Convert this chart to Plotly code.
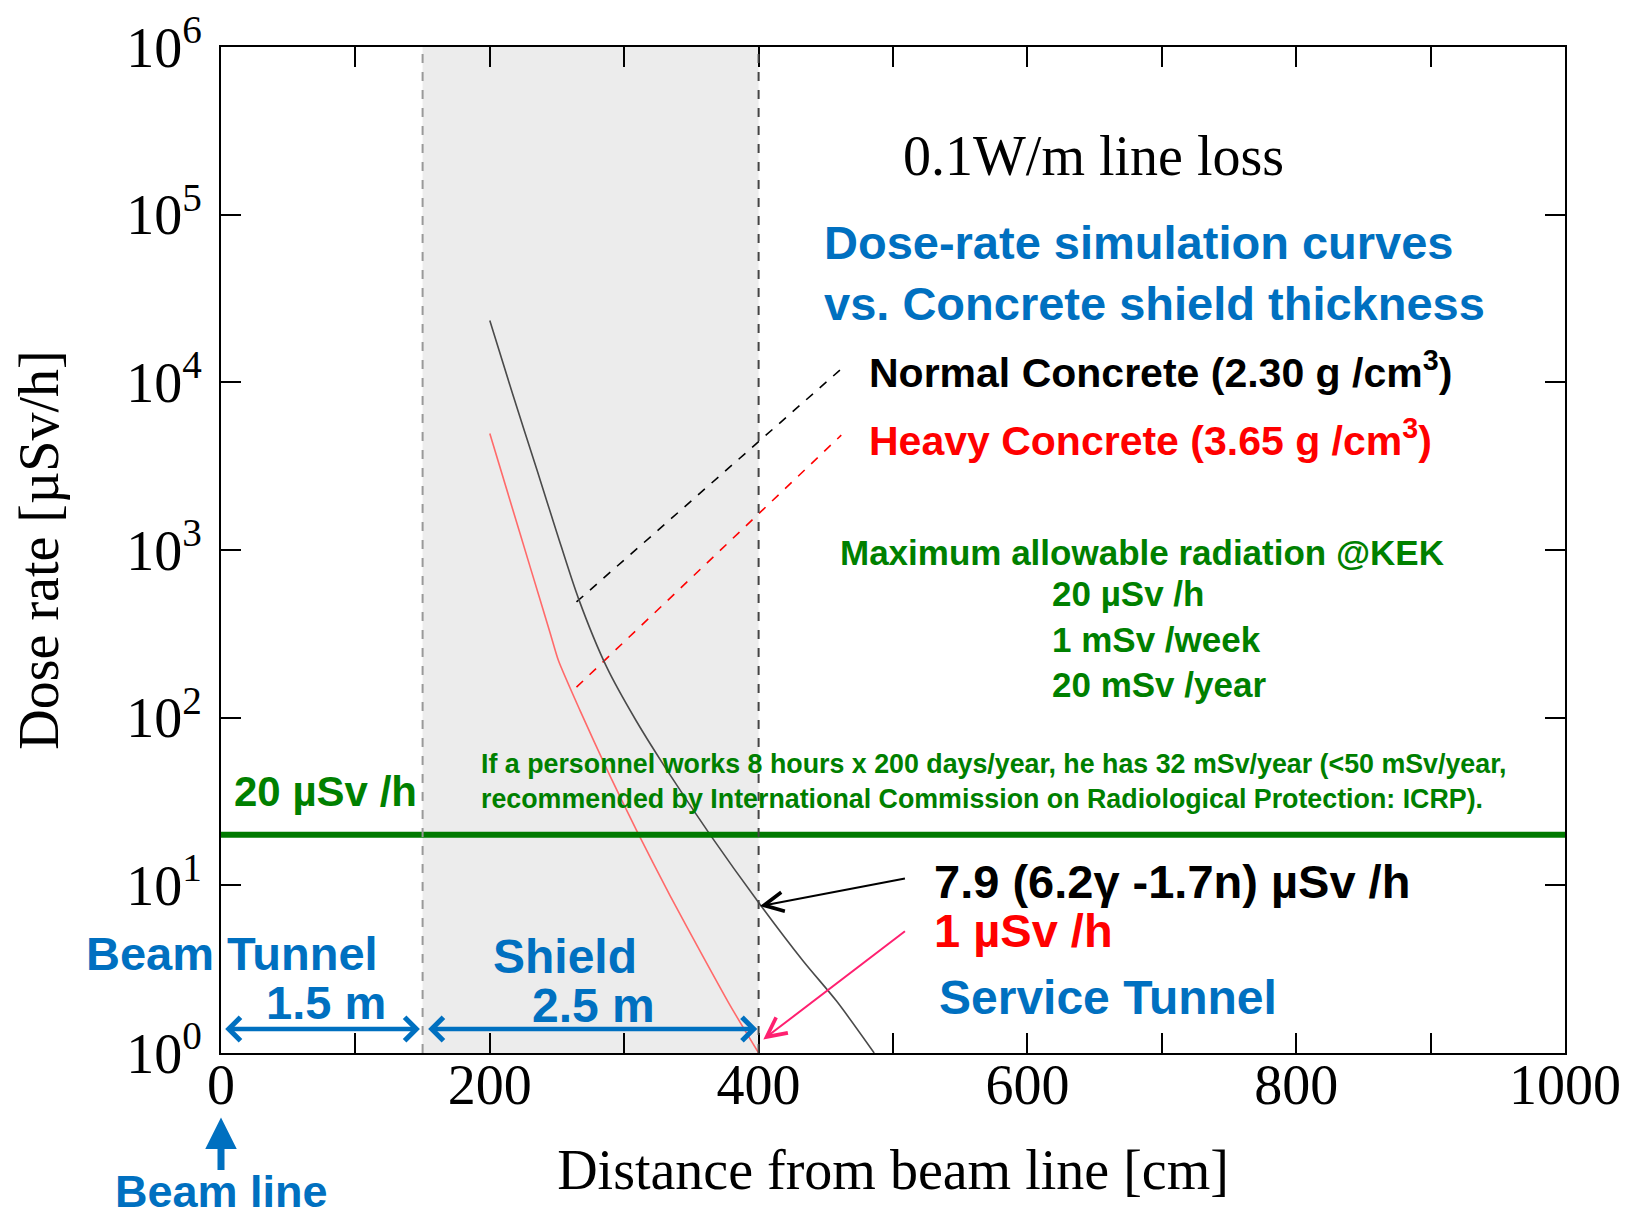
import numpy as np
import plotly.graph_objects as go

# ---------------- data ----------------
normal_x = [200, 217, 235, 250, 266, 287, 309, 334, 364, 400, 433, 458, 486]
normal_y = [23400, 8510, 3020, 1260, 513, 200, 95.5, 45.7, 20.0, 7.9, 3.55, 2.04, 1.0]

heavy_x = [200, 215, 230, 245, 251, 267, 289, 309, 334, 359, 379, 400]
heavy_y = [4955, 1980, 793, 318, 220, 111, 45.7, 21.4, 8.7, 3.72, 1.91, 1.0]

limit_value = 20          # µSv/h
shield_start = 150        # cm
shield_end = 400          # cm

x_tickvals = [0, 100, 200, 300, 400, 500, 600, 700, 800, 900, 1000]
x_ticktext = ["0", "", "200", "", "400", "", "600", "", "800", "", "1000"]
y_tickvals = [1, 10, 100, 1000, 10000, 100000, 1000000]
y_ticktext = ["10<sup>0</sup>", "10<sup>1</sup>", "10<sup>2</sup>", "10<sup>3</sup>",
              "10<sup>4</sup>", "10<sup>5</sup>", "10<sup>6</sup>"]

# leader lines (label pointers)
normal_leader_x = [264.5, 460.5]
normal_leader_y = [490, 11830]
heavy_leader_x = [264.5, 461.5]
heavy_leader_y = [152, 4840]

SERIF = "Liberation Serif"
SANS = "Liberation Sans"
BLUE = "#0070C0"
GREEN = "#008000"
RED = "#FF0000"

fig = go.Figure()

# leader lines
fig.add_trace(go.Scatter(x=normal_leader_x, y=normal_leader_y, mode="lines",
                         line=dict(color="black", width=1.6, dash="dash"), showlegend=False))
fig.add_trace(go.Scatter(x=heavy_leader_x, y=heavy_leader_y, mode="lines",
                         line=dict(color=RED, width=1.6, dash="dash"), showlegend=False))

# curves
fig.add_trace(go.Scatter(x=normal_x, y=normal_y, mode="lines",
                         line=dict(color="#4A4A4A", width=1.6, shape="spline", smoothing=0.8),
                         name="Normal Concrete", showlegend=False))
fig.add_trace(go.Scatter(x=heavy_x, y=heavy_y, mode="lines",
                         line=dict(color="#FF6A6A", width=1.6, shape="spline", smoothing=0.6),
                         name="Heavy Concrete", showlegend=False))

# limit line
fig.add_trace(go.Scatter(x=[0, 1000], y=[limit_value, limit_value], mode="lines",
                         line=dict(color="#007A00", width=6), showlegend=False))

# shield region
fig.add_shape(type="rect", xref="x", yref="paper", x0=shield_start, x1=shield_end, y0=0, y1=1,
              fillcolor="#ECECEC", line_width=0, layer="below")
fig.add_shape(type="line", xref="x", yref="paper", x0=shield_start, x1=shield_start, y0=0, y1=1,
              line=dict(color="#999999", width=2, dash="dash"))
fig.add_shape(type="line", xref="x", yref="paper", x0=shield_end, x1=shield_end, y0=0, y1=1,
              line=dict(color="#444444", width=2, dash="dash"))


def txt(x, y, text, size, color, xanchor="left", family=SANS, bold=True, align="left"):
    fig.add_annotation(x=x, y=y, xref="x", yref="y", text=(f"<b>{text}</b>" if bold else text),
                       showarrow=False, xanchor=xanchor, yanchor="middle", align=align,
                       font=dict(family=family, size=size, color=color))


txt(649, 5.348, "0.1W/m line loss", 56, "black", xanchor="center", family=SERIF, bold=False)
txt(447, 4.652, "Dose-rate simulation curves<br>vs. Concrete shield thickness", 47, BLUE)
txt(481, 4.075, "Normal Concrete (2.30 g /cm<sup>3</sup>)", 41, "black")
txt(481, 3.671, "Heavy Concrete (3.65 g /cm<sup>3</sup>)", 41, RED)
txt(685, 2.988, "Maximum allowable radiation @KEK", 35, GREEN, xanchor="center")
txt(617, 2.472, "20 µSv /h<br>1 mSv /week<br>20 mSv /year", 35, GREEN)
txt(192, 1.621, "If a personnel works 8 hours x 200 days/year, he has 32 mSv/year (<50 mSv/year,<br>"
    "recommended by International Commission on Radiological Protection: ICRP).", 26.8, GREEN)
txt(8, 1.559, "20 µSv /h", 42, GREEN)
txt(529, 1.025, "7.9 (6.2γ -1.7n) µSv /h", 47, "black")
txt(529, 0.733, "1 µSv /h", 47, RED)
txt(533, 0.329, "Service Tunnel", 48, BLUE)
txt(8, 0.596, "Beam Tunnel", 47, BLUE, xanchor="center")
txt(78, 0.304, "1.5 m", 47, BLUE, xanchor="center")
txt(256, 0.578, "Shield", 48, BLUE, xanchor="center")
txt(277, 0.286, "2.5 m", 48, BLUE, xanchor="center")


# arrows
def arrow(x, y, ax, ay, color, width, head=2, size=1.0, side="end"):
    fig.add_annotation(x=x, y=y, ax=ax, ay=ay, xref="x", yref="y", axref="x", ayref="y",
                       text="", showarrow=True, arrowhead=head, arrowsize=size,
                       arrowwidth=width, arrowcolor=color, arrowside=side, startarrowhead=head,
                       startarrowsize=size)


arrow(401, 0.876, 510, 1.043, "black", 2, head=5, size=1.9)
arrow(403.5, 0.081, 510, 0.733, "#FF2070", 2, head=5, size=1.9)
arrow(148, 0.143, 2, 0.143, BLUE, 4.5, head=4, size=1.0, side="end+start")
arrow(399, 0.143, 153, 0.143, BLUE, 4.5, head=4, size=1.0, side="end+start")

# beam line arrow + label (below axis)
fig.add_annotation(x=0, y=-0.064, xref="x", yref="paper", ax=0, ay=54, axref="pixel", ayref="pixel",
                   text="", showarrow=True, arrowhead=2, arrowsize=0.9, arrowwidth=7, arrowcolor=BLUE)
fig.add_annotation(x=0, y=-0.1655, xref="x", yref="paper", text="<b>Beam line</b>", showarrow=False,
                   xanchor="center", yanchor="bottom", font=dict(family=SANS, size=45, color=BLUE))

fig.update_layout(
    width=1617, height=1212,
    margin=dict(l=213, r=60, t=39, b=167, autoexpand=False),
    plot_bgcolor="white", paper_bgcolor="white",
    showlegend=False,
    font=dict(family=SERIF, size=56, color="black"),
)
fig.update_xaxes(range=[0, 1000], tickvals=x_tickvals, ticktext=x_ticktext, ticks="inside",
                 ticklen=20, tickwidth=1.5, tickcolor="black", showline=True, linecolor="black",
                 linewidth=2, mirror="ticks", showgrid=False, zeroline=False, automargin=False,
                 ticklabelstandoff=-18,
                 tickfont=dict(family=SERIF, size=56),
                 title=dict(text="Distance from beam line [cm]", font=dict(family=SERIF, size=56), standoff=35))
fig.update_yaxes(type="log", range=[0, 6], tickvals=y_tickvals, ticktext=y_ticktext, ticks="inside",
                 ticklen=20, tickwidth=1.5, tickcolor="black", showline=True, linecolor="black",
                 linewidth=2, mirror="ticks", showgrid=False, zeroline=False, automargin=False,
                 ticklabelstandoff=6,
                 tickfont=dict(family=SERIF, size=56),
                 title=dict(text="Dose rate [µSv/h]", font=dict(family=SERIF, size=56), standoff=54))

fig.write_html("out.html")
